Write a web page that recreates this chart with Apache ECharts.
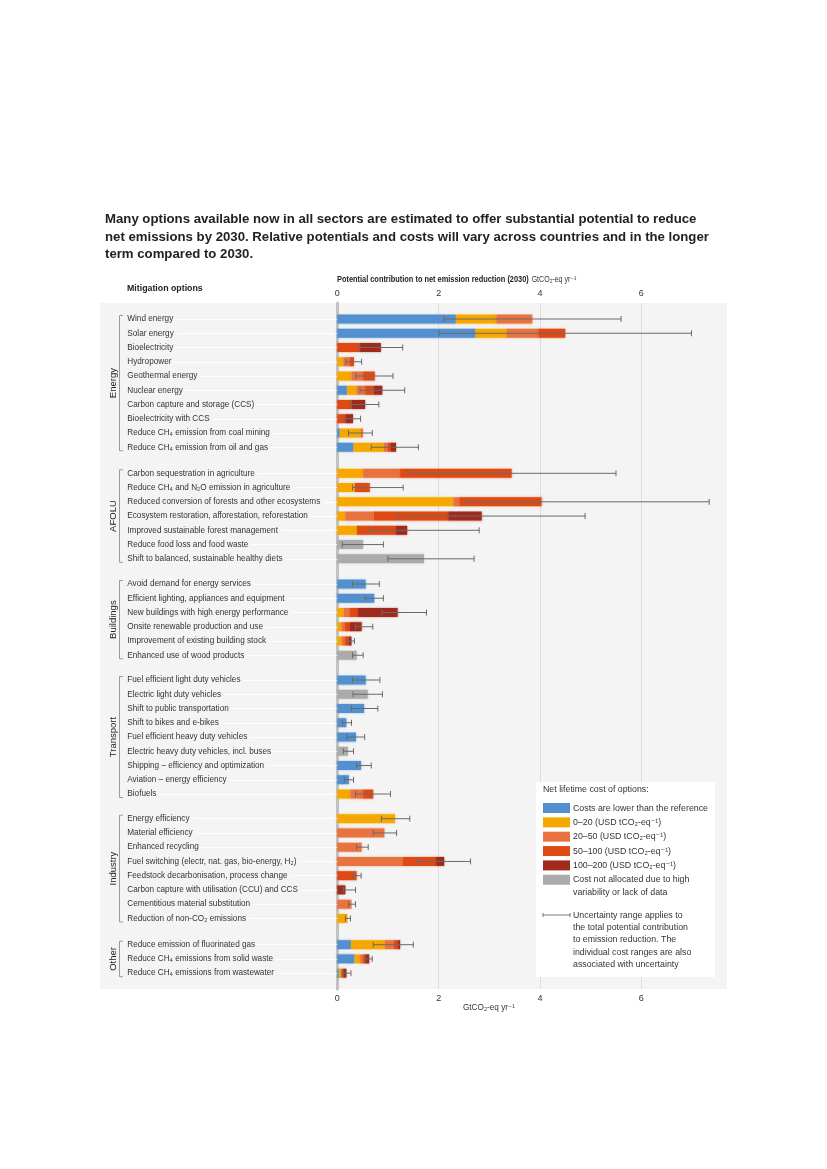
<!DOCTYPE html>
<html>
<head>
<meta charset="utf-8">
<script src="https://cdn.jsdelivr.net/npm/echarts@6/dist/echarts.min.js"></script>
<style>
html,body{margin:0;padding:0;background:#fff;}
#chart{width:827px;height:1169px;}
</style>
</head>
<body>
<div id="chart"></div>
<script>
// ---------------- DATA ----------------
const sectors = ['Energy', 'AFOLU', 'Buildings', 'Transport', 'Industry', 'Other'];
const sectorSizes = [10, 7, 6, 9, 8, 3];
const options = [
  'Wind energy', 'Solar energy', 'Bioelectricity', 'Hydropower', 'Geothermal energy', 'Nuclear energy',
  'Carbon capture and storage (CCS)', 'Bioelectricity with CCS', 'Reduce CH₄ emission from coal mining',
  'Reduce CH₄ emission from oil and gas',
  'Carbon sequestration in agriculture', 'Reduce CH₄ and N₂O emission in agriculture',
  'Reduced conversion of forests and other ecosystems', 'Ecosystem restoration, afforestation, reforestation',
  'Improved sustainable forest management', 'Reduce food loss and food waste', 'Shift to balanced, sustainable healthy diets',
  'Avoid demand for energy services', 'Efficient lighting, appliances and equipment', 'New buildings with high energy performance',
  'Onsite renewable production and use', 'Improvement of existing building stock', 'Enhanced use of wood products',
  'Fuel efficient light duty vehicles', 'Electric light duty vehicles', 'Shift to public transportation',
  'Shift to bikes and e-bikes', 'Fuel efficient heavy duty vehicles', 'Electric heavy duty vehicles, incl. buses',
  'Shipping – efficiency and optimization', 'Aviation – energy efficiency', 'Biofuels',
  'Energy efficiency', 'Material efficiency', 'Enhanced recycling', 'Fuel switching (electr, nat. gas, bio-energy, H₂)',
  'Feedstock decarbonisation, process change', 'Carbon capture with utilisation (CCU) and CCS',
  'Cementitious material substitution', 'Reduction of non-CO₂ emissions',
  'Reduce emission of fluorinated gas', 'Reduce CH₄ emissions from solid waste', 'Reduce CH₄ emissions from wastewater'
];
// segment widths (GtCO2-eq/yr) per cost class
const costLower = [2.34,2.73,0,0,0,0.20,0,0,0.05,0.32, 0,0,0,0,0,0,0, 0.56,0.73,0,0,0,0, 0.56,0,0.53,0.18,0.37,0,0.47,0.23,0, 0,0,0,0,0,0,0,0, 0.27,0.34,0.03];
const cost0_20  = [0.80,0.61,0,0.12,0.28,0.18,0,0,0.42,0.60, 0.51,0.35,2.29,0.16,0.39,0,0, 0,0,0.13,0.08,0.09,0, 0,0,0,0,0,0,0,0,0.26, 1.14,0,0,0,0,0,0,0.20, 0.67,0.11,0.04];
const cost20_50 = [0.71,0.63,0,0.12,0.23,0.17,0,0,0.01,0.08, 0.73,0,0.12,0.56,0,0,0, 0,0,0.12,0.07,0.06,0, 0,0,0,0,0,0,0,0,0.25, 0,0.93,0.48,1.29,0,0,0.28,0, 0.18,0.06,0.02];
const cost50_100 = [0,0.53,0.45,0.09,0.23,0.17,0.28,0.16,0.02,0.06, 2.20,0.29,1.62,1.47,0.77,0,0, 0,0,0.16,0.10,0.08,0, 0,0,0,0,0,0,0,0,0.20, 0,0,0,0.66,0.38,0,0,0, 0.08,0.04,0.03];
const cost100_200 = [0,0,0.41,0,0,0.17,0.27,0.15,0,0.10, 0,0,0,0.66,0.22,0,0, 0,0,0.78,0.23,0.05,0, 0,0,0,0,0,0,0,0,0, 0,0,0,0.16,0,0.16,0,0, 0.04,0.08,0.06];
const costNA = [0,0,0,0,0,0,0,0,0,0, 0,0,0,0,0,0.51,1.71, 0,0,0,0,0,0.38, 0,0.60,0,0,0,0.21,0,0,0, 0,0,0,0,0,0,0,0, 0,0,0];
const uncLow  = [2.11,2.01,0.43,0.17,0.37,0.45,0.28,0.16,0.22,0.67, 1.40,0.30,2.54,1.20,0.61,0.10,1.00, 0.30,0.55,0.88,0.36,0.22,0.30, 0.30,0.31,0.28,0.10,0.19,0.12,0.38,0.14,0.36, 0.87,0.71,0.38,1.58,0.30,0.12,0.22,0.16, 0.71,0.55,0.10];
const uncHigh = [5.60,6.99,1.29,0.48,1.10,1.33,0.82,0.46,0.69,1.60, 5.50,1.30,7.34,4.89,2.80,0.91,2.70, 0.83,0.91,1.76,0.70,0.34,0.51, 0.84,0.89,0.80,0.28,0.54,0.32,0.67,0.32,1.05, 1.43,1.17,0.61,2.63,0.47,0.36,0.36,0.26, 1.50,0.69,0.27];
const xTicks = [0, 2, 4, 6];

const costClasses = [
  {name: 'Costs are lower than the reference', data: costLower, color: '#5390cf'},
  {name: '0–20 (USD tCO₂-eq⁻¹)', data: cost0_20, color: '#f6a800'},
  {name: '20–50 (USD tCO₂-eq⁻¹)', data: cost20_50, color: '#e8733f'},
  {name: '50–100 (USD tCO₂-eq⁻¹)', data: cost50_100, color: '#df4a14'},
  {name: '100–200 (USD tCO₂-eq⁻¹)', data: cost100_200, color: '#a02a1c'},
  {name: 'Cost not allocated due to high\nvariability or lack of data', data: costNA, color: '#ababab'}
];

// ---------------- LAYOUT ----------------
const FONT = '"Liberation Sans", Arial, "DejaVu Sans", sans-serif';
const TXT = '#333333';
const x0px = 337.3, pxPerUnit = 50.67, xMax = 8;
const rowStep = 14.25;
const firstRowY = [319, 473.3, 584, 680, 818.7, 944.7];
const panel = {x: 100, y: 303, w: 627, h: 686};

const grids = [{left: x0px, top: panel.y, width: xMax * pxPerUnit, height: panel.h}];
const xAxes = [
  {gridIndex: 0, type: 'value', min: 0, max: xMax, interval: 2, position: 'top',
   axisLine: {show: false}, axisTick: {show: false},
   axisLabel: {color: TXT, fontFamily: FONT, fontSize: 9, margin: 5, showMaxLabel: false},
   splitLine: {show: true, showMinLine: false, showMaxLine: false, lineStyle: {color: '#dddddd', width: 1}}},
  {gridIndex: 0, type: 'value', min: 0, max: xMax, interval: 2, position: 'bottom',
   axisLine: {show: false}, axisTick: {show: false},
   axisLabel: {color: TXT, fontFamily: FONT, fontSize: 9, margin: 5, showMaxLabel: false},
   splitLine: {show: false}}
];
const yAxes = [
  {gridIndex: 0, type: 'value', min: 0, max: 1, axisLabel: {show: false}, splitLine: {show: false},
   axisTick: {show: false}, axisLine: {show: true, onZero: false, lineStyle: {color: '#c2c2c2', width: 3}}}
];
const series = [];
const graphics = [];

let start = 0;
sectors.forEach((sec, i) => {
  const n = sectorSizes[i];
  const gi = i + 1;
  grids.push({left: x0px, top: firstRowY[i] - rowStep / 2, width: xMax * pxPerUnit, height: n * rowStep});
  xAxes.push({gridIndex: gi, type: 'value', min: 0, max: xMax, show: false});
  yAxes.push({
    gridIndex: gi, type: 'category', inverse: true, data: options.slice(start, start + n),
    name: sec, nameLocation: 'middle', nameRotate: 90, nameGap: 219,
    nameTextStyle: {color: '#222', fontFamily: FONT, fontSize: 9.5},
    axisLine: {show: false},
    axisTick: {show: true, alignWithLabel: true, length: 208, lineStyle: {color: '#ffffff', width: 1}},
    axisLabel: {align: 'left', margin: 210, color: TXT, fontFamily: FONT, fontSize: 8.2,
      backgroundColor: '#f4f4f4', padding: [0, 3, 0, 0]},
    splitLine: {show: false}
  });
  costClasses.forEach(cc => {
    series.push({
      type: 'bar', name: cc.name, xAxisIndex: gi + 1, yAxisIndex: gi, stack: 'st' + i,
      barWidth: 9, data: cc.data.slice(start, start + n),
      itemStyle: {color: cc.color, shadowBlur: 2, shadowColor: cc.color + '88'},
      silent: true, z: 3
    });
  });
  const errData = [];
  for (let k = 0; k < n; k++) errData.push([k, uncLow[start + k], uncHigh[start + k]]);
  series.push({
    type: 'custom', xAxisIndex: gi + 1, yAxisIndex: gi, data: errData, z: 5, silent: true,
    encode: {x: [1, 2], y: 0},
    renderItem: function (params, api) {
      const c = api.value(0);
      const a = api.coord([api.value(1), c]);
      const b = api.coord([api.value(2), c]);
      const h = 3;
      const st = {stroke: '#6a6a6a', lineWidth: 1};
      return {type: 'group', children: [
        {type: 'line', shape: {x1: a[0], y1: a[1], x2: b[0], y2: b[1]}, style: st},
        {type: 'line', shape: {x1: a[0], y1: a[1] - h, x2: a[0], y2: a[1] + h}, style: st},
        {type: 'line', shape: {x1: b[0], y1: b[1] - h, x2: b[0], y2: b[1] + h}, style: st}
      ]};
    }
  });
  // sector bracket
  const yTop = firstRowY[i] - 3.5, yBot = firstRowY[i] + (n - 1) * rowStep + 3.5;
  graphics.push({type: 'polyline', z: 10, shape: {points: [[123, yTop], [119.5, yTop], [119.5, yBot], [123, yBot]]},
    style: {stroke: '#9a9a9a', lineWidth: 1, fill: null}});
  start += n;
});

// panel background
graphics.unshift({type: 'rect', z: -10, shape: {x: panel.x, y: panel.y, width: panel.w, height: panel.h},
  style: {fill: '#f4f4f4'}});

// header texts
graphics.push({type: 'text', x: 127, y: 289, style: {text: 'Mitigation options', font: 'bold 8.8px ' + FONT, fill: '#222',
  textVerticalAlign: 'middle'}});
graphics.push({type: 'text', x: 337, y: 279.5, scaleX: 0.86, originX: 0, originY: 0, style: {
  text: '{b|Potential contribution to net emission reduction (2030)} {n|GtCO₂-eq yr⁻¹}',
  textVerticalAlign: 'middle',
  rich: {b: {font: 'bold 8.6px ' + FONT, fill: '#222'}, n: {font: '8.2px ' + FONT, fill: TXT}}}});
graphics.push({type: 'text', x: 489, y: 1008, style: {text: 'GtCO₂-eq yr⁻¹', font: '8.2px ' + FONT, fill: TXT,
  textAlign: 'center', textVerticalAlign: 'middle'}});

// legend box
const lg = {x: 536, y: 782, w: 179, h: 195};
graphics.push({type: 'rect', z: 20, shape: {x: lg.x, y: lg.y, width: lg.w, height: lg.h}, style: {fill: '#ffffff'}});
graphics.push({type: 'text', z: 21, x: 543, y: 790, style: {text: 'Net lifetime cost of options:', font: '8.8px ' + FONT,
  fill: TXT, textVerticalAlign: 'middle'}});
costClasses.forEach((cc, k) => {
  const cy = 808 + k * 14.35;
  graphics.push({type: 'rect', z: 21, shape: {x: 543, y: cy - 5, width: 27, height: 10}, style: {fill: cc.color}});
  graphics.push({type: 'text', z: 21, x: 573, y: cy - 6, style: {text: cc.name, font: '8.8px ' + FONT, fill: TXT,
    lineHeight: 12.3, textVerticalAlign: 'top'}});
});
graphics.push({type: 'line', z: 21, shape: {x1: 543, y1: 915, x2: 570, y2: 915}, style: {stroke: '#555', lineWidth: 0.8}});
graphics.push({type: 'line', z: 21, shape: {x1: 543, y1: 913, x2: 543, y2: 917}, style: {stroke: '#555', lineWidth: 0.8}});
graphics.push({type: 'line', z: 21, shape: {x1: 570, y1: 913, x2: 570, y2: 917}, style: {stroke: '#555', lineWidth: 0.8}});
graphics.push({type: 'text', z: 21, x: 573, y: 909, style: {
  text: 'Uncertainty range applies to\nthe total potential contribution\nto emission reduction. The\nindividual cost ranges are also\nassociated with uncertainty',
  font: '8.8px ' + FONT, fill: TXT, lineHeight: 12.4, textVerticalAlign: 'top'}});

const chart = echarts.init(document.getElementById('chart'), null, {renderer: 'canvas'});
chart.setOption({
  backgroundColor: '#ffffff',
  animation: false,
  title: {
    text: 'Many options available now in all sectors are estimated to offer substantial potential to reduce\nnet emissions by 2030. Relative potentials and costs will vary across countries and in the longer\nterm compared to 2030.',
    left: 100, top: 206,
    textStyle: {fontFamily: FONT, fontSize: 13.2, fontWeight: 'bold', color: '#222', lineHeight: 17.5}
  },
  grid: grids,
  xAxis: xAxes,
  yAxis: yAxes,
  series: series,
  graphic: graphics
});
</script>
</body>
</html>
